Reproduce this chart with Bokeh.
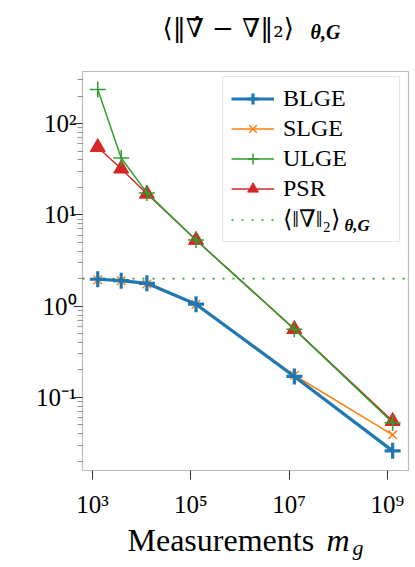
import math
from bokeh.plotting import figure
from bokeh.models import (ColumnDataSource, FixedTicker, CustomJSTickFormatter, Legend,
                          LegendItem, Label, Range1d, BoxAnnotation)
from bokeh.embed import file_html
from bokeh.resources import INLINE

# ---- data ----
m = [1280, 3840, 12800, 128000, 12800000, 1280000000]
blge = [1.97, 1.90, 1.78, 1.05, 0.170, 0.026]
slge = [1.95, 1.90, 1.75, 1.05, 0.175, 0.039]
ulge = [236.0, 42.0, 17.4, 5.3, 0.56, 0.053]
psr = [55.0, 32.0, 17.0, 5.3, 0.56, 0.055]
grad_norm = 2.0

x_ticks = [1e3, 1e5, 1e7, 1e9]
y_ticks = [1e-1, 1e0, 1e1, 1e2]
xlim = (10 ** 2.797, 10 ** 9.43)
ylim = (10 ** -1.8, 10 ** 2.57)
y_minor = [k * 10.0 ** e for e in range(-2, 3) for k in range(2, 10)
           if ylim[0] <= k * 10.0 ** e <= ylim[1]]

# ---- layout (pixels) ----
W, H = 410, 560
BOX_L, BOX_R, BOX_T, BOX_B = 82, 408, 71, 470

SERIF = "Liberation Serif, serif"
MATH = "DejaVu Serif, serif"
BLUE, ORANGE, GREEN, RED = "#1f77b4", "#ff7f0e", "#2ca02c", "#d62728"

# ranges chosen so the axes box (xlim x ylim) sits at the box pixel position
lx0, lx1 = math.log10(xlim[0]), math.log10(xlim[1])
ly0, ly1 = math.log10(ylim[0]), math.log10(ylim[1])
ppx = (BOX_R - BOX_L) / (lx1 - lx0)
ppy = (BOX_B - BOX_T) / (ly1 - ly0)
x_range = Range1d(10 ** (lx0 - BOX_L / ppx), 10 ** (lx1 + (W - BOX_R) / ppx))
y_range = Range1d(10 ** (ly0 - (H - BOX_B) / ppy), 10 ** (ly1 + BOX_T / ppy))

p = figure(width=W, height=H, x_axis_type="log", y_axis_type="log",
           x_range=x_range, y_range=y_range,
           output_backend="svg", toolbar_location=None,
           min_border_left=0, min_border_right=0, min_border_top=0, min_border_bottom=0)
p.title.visible = False
p.grid.visible = False
p.outline_line_color = None
p.background_fill_color = "white"
p.border_fill_color = "white"

fmt = CustomJSTickFormatter(code="""
const sup = {'-':'\u207b','0':'\u2070','1':'\u00b9','2':'\u00b2','3':'\u00b3','4':'\u2074',
             '5':'\u2075','6':'\u2076','7':'\u2077','8':'\u2078','9':'\u2079'};
const e = Math.round(Math.log10(tick));
return '10' + String(e).split('').map(c => sup[c]).join('');
""")

for ax in (p.xaxis[0], p.yaxis[0]):
    ax.formatter = fmt
    ax.axis_line_color = None
    ax.major_tick_in = 0
    ax.major_tick_out = 9
    ax.minor_tick_in = 0
    ax.minor_tick_out = 5
    ax.major_tick_line_color = "#333333"
    ax.major_tick_line_width = 1
    ax.minor_tick_line_color = "#999999"
    ax.major_label_text_font = "Liberation Serif"
    ax.major_label_text_font_size = "25px"
    ax.major_label_text_color = "black"

p.xaxis.ticker = FixedTicker(ticks=x_ticks, minor_ticks=[])
p.yaxis.ticker = FixedTicker(ticks=y_ticks, minor_ticks=y_minor)
p.xaxis.fixed_location = ylim[0]
p.yaxis.fixed_location = xlim[0]
p.xaxis.bounds = xlim
p.yaxis.bounds = ylim
p.xaxis.major_label_standoff = 11
p.yaxis.major_label_standoff = -3

# axes box
p.add_layout(BoxAnnotation(left=xlim[0], right=xlim[1], bottom=ylim[0], top=ylim[1],
                           fill_alpha=0, line_color="#222222", line_width=1.2))

src = ColumnDataSource(dict(m=m, blge=blge, slge=slge, ulge=ulge, psr=psr))

# reference line across the axes box
r_ref = p.line(x=list(xlim), y=[grad_norm, grad_norm], line_color=GREEN,
               line_width=1.6, line_dash="2 8")

r_psr_l = p.line("m", "psr", source=src, line_color=RED, line_width=1.5)
r_psr_m = p.scatter("m", "psr", source=src, marker="triangle", size=15,
                    fill_color=RED, line_color=RED)
r_s_l = p.line("m", "slge", source=src, line_color=ORANGE, line_width=1.5)
r_s_m = p.scatter("m", "slge", source=src, marker="x", size=12,
                  line_color=ORANGE, line_width=1.5)
r_u_l = p.line("m", "ulge", source=src, line_color=GREEN, line_width=1.5)
r_u_m = p.scatter("m", "ulge", source=src, marker="cross", size=16,
                  line_color=GREEN, line_width=1.5)
r_b_l = p.line("m", "blge", source=src, line_color=BLUE, line_width=3.2)
r_b_m = p.scatter("m", "blge", source=src, marker="cross", size=16,
                  line_color=BLUE, line_width=3.2)

legend = Legend(items=[
    LegendItem(label="BLGE", renderers=[r_b_l, r_b_m]),
    LegendItem(label="SLGE", renderers=[r_s_l, r_s_m]),
    LegendItem(label="ULGE", renderers=[r_u_l, r_u_m]),
    LegendItem(label="PSR", renderers=[r_psr_l, r_psr_m]),
    LegendItem(label="\u27e8\u2016\u2207\u2016\u2082\u27e9", renderers=[r_ref]),
], location=(222, H - 242))
legend.padding = 8
legend.spacing = 3
legend.glyph_width = 43
legend.glyph_height = 27
legend.label_height = 27
legend.label_width = 108
legend.label_standoff = 9
legend.label_text_font = "Liberation Serif, DejaVu Serif"
legend.label_text_font_size = "24px"
legend.label_text_color = "black"
legend.label_text_baseline = "middle"
legend.border_line_color = "#cccccc"
legend.border_line_width = 1
legend.background_fill_alpha = 0
p.add_layout(legend)


def text(x, y, s, font, size, style="normal"):
    p.add_layout(Label(x=x, y=H - y, x_units="screen", y_units="screen", text=s,
                       text_font=font, text_font_size=size, text_font_style=style,
                       text_color="black", text_baseline="middle", text_align="left",
                       level="overlay"))


# legend subscript
text(344, 225, "\u03b8,G", SERIF, "17px", "bold italic")
# title
text(162, 27, "\u27e8\u2016\u2207\u0302 \u2212 \u2207\u2016\u2082\u27e9", MATH, "26px")
text(310, 31, "\u03b8,G", SERIF, "20px", "bold italic")
# x-axis label
text(127, 539, "Measurements", SERIF, "32px")
text(326, 539, "m", SERIF, "32px", "italic")
text(352, 547, "g", SERIF, "22px", "italic")

open("out.html", "w").write(file_html(p, INLINE))
